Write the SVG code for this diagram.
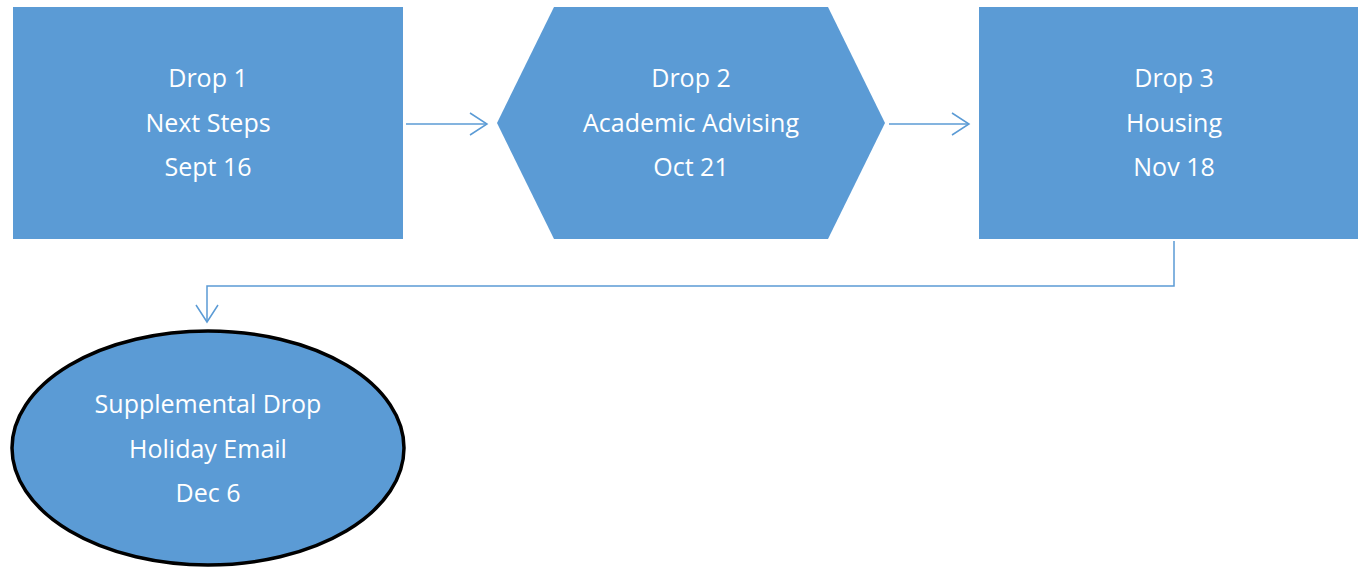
<svg xmlns="http://www.w3.org/2000/svg" width="1358" height="568" viewBox="0 0 1358 568">
<defs>
<style>
.node{fill:#5B9BD5;}
.lbl{font-family:"Open Sans","Liberation Sans",sans-serif;font-size:25px;fill:#FFFFFF;text-anchor:middle;}
.conn{fill:none;stroke:#5B9BD5;stroke-width:1.5;}
</style>
<marker id="arr" markerWidth="20" markerHeight="24" refX="18" refY="12" orient="auto" markerUnits="userSpaceOnUse">
<path d="M1,1 L18,12 L1,23" fill="none" stroke="#5B9BD5" stroke-width="1.5"/>
</marker>
</defs>
<rect width="1358" height="568" fill="#FFFFFF"/>
<g id="drop1">
<rect class="node" x="13" y="7" width="390" height="232"/>
<text class="lbl" x="208" y="87">Drop 1</text>
<text class="lbl" x="208" y="132">Next Steps</text>
<text class="lbl" x="208" y="176">Sept 16</text>
</g>
<g id="drop2">
<polygon class="node" points="554,7 828,7 885,123 828,239 554,239 497,123"/>
<text class="lbl" x="691" y="87">Drop 2</text>
<text class="lbl" x="691" y="132">Academic Advising</text>
<text class="lbl" x="691" y="176">Oct 21</text>
</g>
<g id="drop3">
<rect class="node" x="979" y="7" width="379" height="232"/>
<text class="lbl" x="1174" y="87">Drop 3</text>
<text class="lbl" x="1174" y="132">Housing</text>
<text class="lbl" x="1174" y="176">Nov 18</text>
</g>
<g id="supplemental">
<ellipse class="node" cx="208" cy="448" rx="196" ry="117" stroke="#000000" stroke-width="3.5"/>
<text class="lbl" x="208" y="413">Supplemental Drop</text>
<text class="lbl" x="208" y="458">Holiday Email</text>
<text class="lbl" x="208" y="502">Dec 6</text>
</g>
<g id="connectors">
<path class="conn" d="M406,124 L487,124" marker-end="url(#arr)"/>
<path class="conn" d="M889,124 L969,124" marker-end="url(#arr)"/>
<path class="conn" d="M1174,241 L1174,286 L207,286 L207,322" marker-end="url(#arr)"/>
</g>
</svg>
